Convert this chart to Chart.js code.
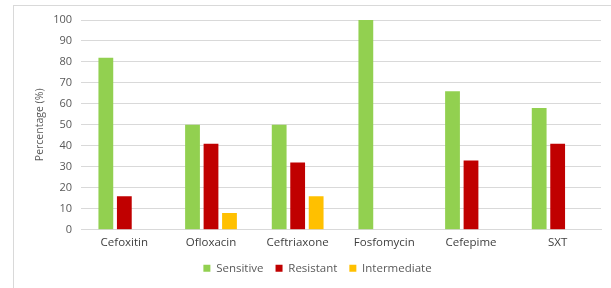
<!DOCTYPE html>
<html>
<head>
<meta charset="utf-8">
<script src="https://cdn.jsdelivr.net/npm/chart.js@4"></script>
<style>
  html, body { margin: 0; padding: 0; background: #fff; }
  #frame { position: absolute; left: 13px; top: 5px; width: 620px; height: 300px; border: 1px solid #d9d9d9; }
  #wrap { position: absolute; left: 0; top: 0; width: 611px; height: 288px; }
</style>
</head>
<body>
<div id="frame"></div>
<div id="wrap"><canvas id="myChart" width="611" height="288"></canvas></div>
<script>
var drugs = ["Cefoxitin", "Ofloxacin", "Ceftriaxone", "Fosfomycin", "Cefepime", "SXT"];
var sensitive = [82, 50, 50, 100, 66, 58];
var resistant = [16, 41, 32, 0, 33, 41];
var intermediate = [0, 8, 16, 0, 0, 0];
var yTicks = [0, 10, 20, 30, 40, 50, 60, 70, 80, 90, 100];

var textColor = "#595959";
var fontFam = "'Open Sans', 'DejaVu Sans', sans-serif";

new Chart("myChart", {
  type: "bar",
  data: {
    labels: drugs,
    datasets: [
      { label: "Sensitive", backgroundColor: "#92D050", data: sensitive },
      { label: "Resistant", backgroundColor: "#C00000", data: resistant },
      { label: "Intermediate", backgroundColor: "#FFC000", data: intermediate }
    ]
  },
  options: {
    responsive: false,
    animation: false,
    layout: { padding: { left: 34, right: 10, top: 20, bottom: 4 } },
    datasets: { bar: { categoryPercentage: 0.64, barPercentage: 0.8 } },
    plugins: {
      tooltip: { enabled: false },
      legend: {
        position: "bottom",
        labels: {
          boxWidth: 7, boxHeight: 7, padding: 12,
          color: textColor,
          font: { family: fontFam, size: 11.5 }
        }
      }
    },
    scales: {
      x: {
        afterFit: function (s) { s.height -= 5; },
        grid: { display: false, drawTicks: false },
        border: { color: "#d9d9d9" },
        ticks: { color: "#404040", padding: 6, font: { family: fontFam, size: 11.5 } }
      },
      y: {
        min: 0, max: 100,
        afterBuildTicks: function (s) { s.ticks = yTicks.map(function (v) { return { value: v }; }); },
        afterFit: function (s) { s.width = 47; },
        grid: { color: "#d9d9d9", drawTicks: false },
        border: { display: false },
        ticks: { color: textColor, padding: 9, font: { family: fontFam, size: 11 } },
        title: {
          display: true, text: "Percentage (%)", color: textColor,
          font: { family: fontFam, size: 10.5 }, padding: 0
        }
      }
    }
  }
});
</script>
</body>
</html>
